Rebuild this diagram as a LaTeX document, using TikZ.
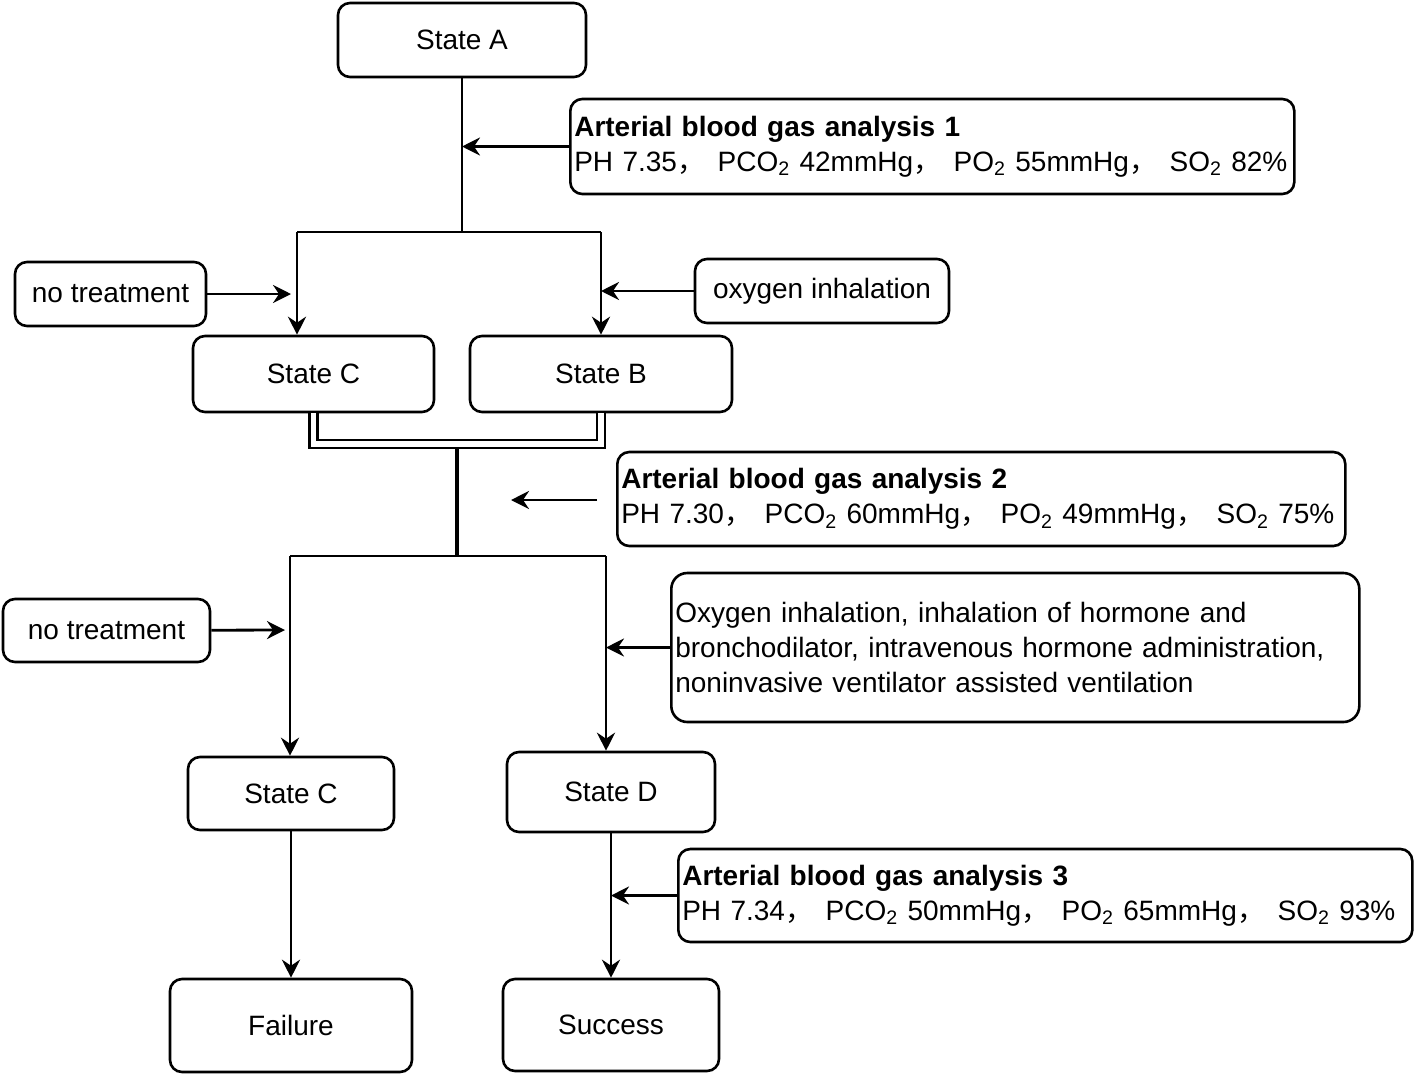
\documentclass[tikz,border=0pt]{standalone}
\usepackage{fontspec}
\setmainfont{Liberation Sans}
\newfontfamily\cjk{Noto Sans CJK SC}
\usetikzlibrary{arrows.meta}
\newcommand\cma{{\cjk ，}\hskip0.45em\relax}
\tikzset{
  box/.style={draw, line width=1.3pt, rounded corners=6pt, align=center},
  note/.style={box, anchor=west, align=left, inner xsep=2pt, inner ysep=0pt},
  ln/.style={line width=1.4pt},
  arr/.style={line width=1.4pt, -{Stealth[length=9pt,width=9pt,inset=3pt]}}
}

\begin{document}
\begin{tikzpicture}[x=0.5pt,y=-0.5pt,font=\fontsize{14}{17.5}\selectfont]
\useasboundingbox (0,0) rectangle (1416,1076);
\node[box,minimum width=124pt,minimum height=37pt] (A) at (462,40) {State A};
\node[note,minimum height=47.5pt,text width=358pt] (ana1) at (569,146.5)
  {\textbf{Arterial blood gas analysis 1}\\PH 7.35\cma PCO\textsubscript{2} 42mmHg\cma PO\textsubscript{2} 55mmHg\cma SO\textsubscript{2} 82\%};
\node[box,minimum width=95.5pt,minimum height=32pt] (nt1) at (110.5,294) {no treatment};
\node[box,minimum width=127pt,minimum height=32pt] (oxy) at (822,291) {oxygen inhalation};
\node[box,minimum width=120.5pt,minimum height=38pt] (C1) at (313.5,374) {State C};
\node[box,minimum width=131pt,minimum height=38pt] (B) at (601,374) {State B};
\node[note,minimum height=47pt,text width=360pt] (ana2) at (616,499)
  {\textbf{Arterial blood gas analysis 2}\\PH 7.30\cma PCO\textsubscript{2} 60mmHg\cma PO\textsubscript{2} 49mmHg\cma SO\textsubscript{2} 75\%};
\node[box,minimum width=103.5pt,minimum height=31.5pt] (nt2) at (106.5,630.5) {no treatment};
\node[note,minimum height=74.5pt,text width=340pt,rounded corners=8pt] (treat) at (670,647.5)
  {Oxygen inhalation, inhalation of hormone and\\bronchodilator, intravenous hormone administration,\\noninvasive ventilator assisted ventilation};
\node[box,minimum width=103pt,minimum height=36.5pt] (C2) at (291,793.5) {State C};
\node[box,minimum width=104pt,minimum height=40pt] (D) at (611,792) {State D};
\node[note,minimum height=46.5pt,text width=363pt] (ana3) at (677,895.5)
  {\textbf{Arterial blood gas analysis 3}\\PH 7.34\cma PCO\textsubscript{2} 50mmHg\cma PO\textsubscript{2} 65mmHg\cma SO\textsubscript{2} 93\%};
\node[box,minimum width=121pt,minimum height=46.5pt] (fail) at (291,1025.5) {Failure};
\node[box,minimum width=108pt,minimum height=46pt] (succ) at (611,1025) {Success};

\coordinate (j1) at (462,232);
\coordinate (cL) at (297,232);
\coordinate (cR) at (601,232);
\coordinate (t1) at (291,294);
\coordinate (m1) at (457,444);
\coordinate (j2) at (457,556);
\coordinate (dL) at (290,556);
\coordinate (dR) at (606,556);
\coordinate (t2) at (285,630);
\coordinate (a2s) at (597,500);
\coordinate (a2e) at (511,500);

\draw[ln] (A) -- (j1);
\draw[ln] (cL) -- (cR);
\draw[arr] (cL) -- (cL |- C1.north);
\draw[arr] (cR) -- (B);
\draw[arr] (ana1.west) -- (ana1.west -| j1);
\draw[arr] (nt1) -- (t1);
\draw[arr] (oxy) -- (oxy -| cR);
\draw[line width=2.2pt] (m1) -- (j2);
\draw[line width=1.2pt,double,double distance=2.8pt] (C1.south) |- (m1) -| (B.south);
\draw[arr] (a2s) -- (a2e);
\draw[ln] (dL) -- (dR);
\draw[arr] (dL) -- (dL |- C2.north);
\draw[arr] (dR) -- (dR |- D.north);
\draw[arr] (nt2) -- (t2);
\draw[arr] (treat.west) -- (treat.west -| dR);
\draw[arr] (C2) -- (fail);
\draw[arr] (D) -- (succ);
\draw[arr] (ana3.west) -- (ana3.west -| D);
\end{tikzpicture}
\end{document}
